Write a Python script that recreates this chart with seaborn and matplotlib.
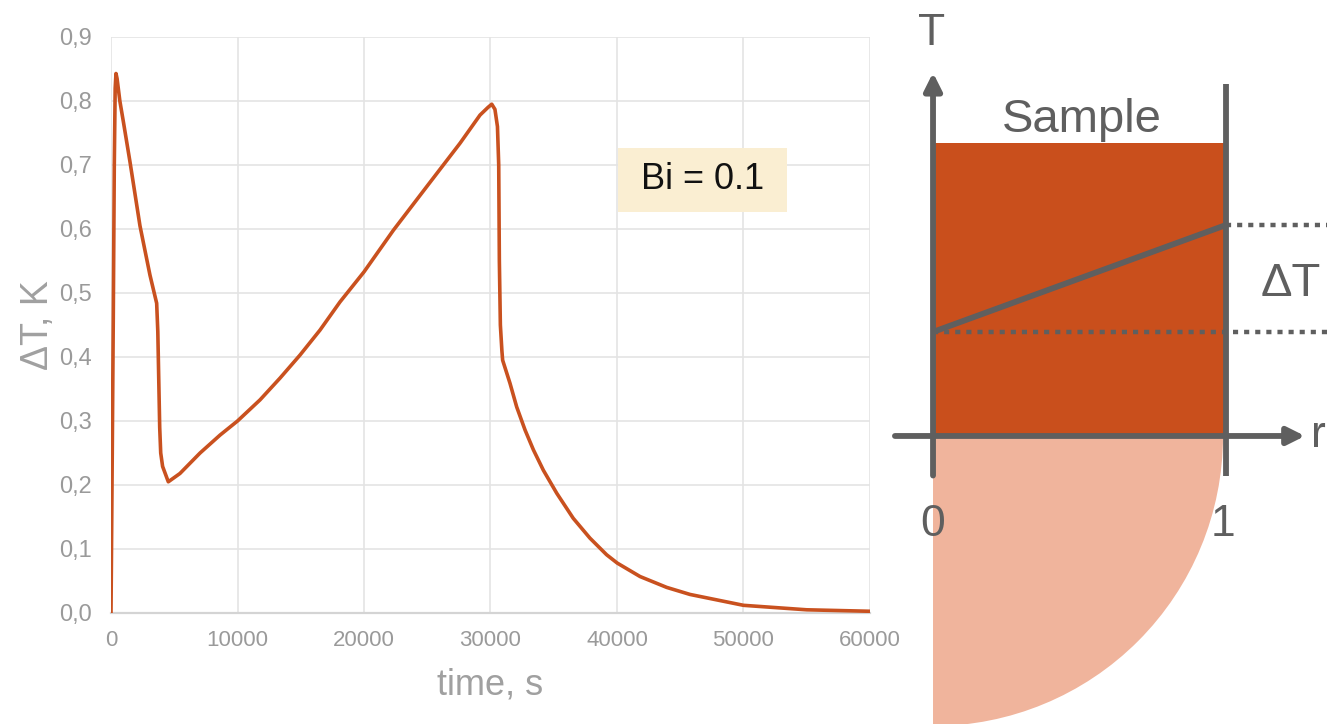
import matplotlib
matplotlib.use("Agg")
import matplotlib.pyplot as plt
import seaborn as sns
import pandas as pd
from matplotlib.patches import Rectangle, Wedge

# ---------------- data ----------------
time_s = [0, 100, 180, 260, 330, 395, 480, 700, 1000, 1500, 2290, 3080,
          3610, 3700, 3780, 3850, 3930, 4080, 4530, 5450, 7040, 8620,
          10000, 11780, 13360, 14940, 16520, 18100, 20000, 22320, 24950,
          27590, 29170, 29800, 30100, 30350, 30550, 30650, 30700, 30780,
          30900, 30960, 31540, 32070, 32730, 33390, 34180, 35240, 36540,
          37860, 39180, 40020, 41820, 43930, 45770, 50000, 55000, 60000]
delta_T = [0.0, 0.25, 0.46, 0.70, 0.82, 0.843, 0.835, 0.80, 0.765, 0.705,
           0.605, 0.528, 0.484, 0.44, 0.36, 0.29, 0.25, 0.229, 0.205,
           0.218, 0.250, 0.278, 0.300, 0.333, 0.367, 0.403, 0.442, 0.486,
           0.533, 0.598, 0.666, 0.734, 0.778, 0.790, 0.795, 0.787, 0.760,
           0.700, 0.550, 0.450, 0.410, 0.395, 0.359, 0.322, 0.286, 0.255,
           0.223, 0.187, 0.148, 0.117, 0.091, 0.078, 0.057, 0.040, 0.029,
           0.012, 0.005, 0.0027]

x_ticks = [0, 10000, 20000, 30000, 40000, 50000, 60000]
x_tick_labels = ["0", "10000", "20000", "30000", "40000", "50000", "60000"]
y_ticks = [0.0, 0.1, 0.2, 0.3, 0.4, 0.5, 0.6, 0.7, 0.8, 0.9]
y_tick_labels = ["0,0", "0,1", "0,2", "0,3", "0,4", "0,5", "0,6", "0,7", "0,8", "0,9"]

x_label = "time, s"
y_label = "ΔT, K"
annotation_text = "Bi = 0.1"

# schematic (in units of sample radius r and temperature)
sample_T_top = 1.0
profile_r = [0.0, 1.0]
profile_T = [0.355, 0.72]

# ---------------- style ----------------
sns.set_style("white")
plt.rcParams["font.family"] = ["Liberation Sans", "DejaVu Sans"]

LINE_COLOR = "#C9511F"
GRID_COLOR = "#E4E4E4"
TICK_COLOR = "#9A9A9A"
LABEL_COLOR = "#A0A0A0"
DIAG_GRAY = "#5F5F5F"
SAMPLE_COLOR = "#C94F1C"
PINK = "#F0B49C"

fig = plt.figure(figsize=(13.27, 7.24), dpi=100)

# ---------------- main chart ----------------
ax = fig.add_axes([111 / 1327, 111 / 724, 759 / 1327, 576 / 724])
df = pd.DataFrame({"time": time_s, "dT": delta_T})
sns.lineplot(data=df, x="time", y="dT", ax=ax, color=LINE_COLOR,
             linewidth=2.6, estimator=None, sort=False, zorder=3)

ax.set_xlim(0, 60000)
ax.set_ylim(0, 0.9)
ax.set_xticks(x_ticks)
ax.set_xticklabels(x_tick_labels)
ax.set_yticks(y_ticks)
ax.set_yticklabels(y_tick_labels)
ax.tick_params(axis="both", length=0, colors=TICK_COLOR)
ax.tick_params(axis="x", pad=12, labelsize=16)
ax.tick_params(axis="y", pad=14, labelsize=17)
ax.grid(True, color=GRID_COLOR, linewidth=1.2, zorder=0)
ax.set_axisbelow(True)
for side in ["top", "right", "left"]:
    ax.spines[side].set_visible(False)
ax.spines["bottom"].set_color("#D4D4D4")
ax.spines["bottom"].set_linewidth(1.6)
ax.set_xlabel(x_label, fontsize=26, color=LABEL_COLOR, labelpad=12)
ax.set_ylabel(y_label, fontsize=27, color=LABEL_COLOR, labelpad=2)

# Bi annotation box
ax.add_patch(Rectangle((40080, 0.627), 13360, 0.100, facecolor="#FAEED2",
                       edgecolor="none", zorder=2))
ax.text(46760, 0.677, annotation_text, ha="center", va="center",
        fontsize=26, color="#111111", zorder=4)

# ---------------- schematic ----------------
dx = fig.add_axes([880 / 1327, 0, 447 / 1327, 1])
dx.set_xlim(-0.181, 1.345)
dx.set_ylim(-0.983, 1.488)
dx.axis("off")
dx.patch.set_alpha(0)

dx.add_patch(Wedge((0, 0), 0.99, 270, 360, facecolor=PINK, edgecolor="none",
                   zorder=1))
dx.add_patch(Rectangle((0, 0), 1.0, sample_T_top, facecolor=SAMPLE_COLOR,
                       edgecolor="none", zorder=2))

lw = 4.2
# right boundary line
dx.plot([1.0, 1.0], [-0.135, 1.2], color=DIAG_GRAY, lw=lw,
        solid_capstyle="butt", zorder=4)
# axes with arrows
arrow_kw = dict(arrowstyle="-|>", color=DIAG_GRAY, lw=lw, mutation_scale=26,
                shrinkA=0, shrinkB=0)
dx.annotate("", xy=(0.0, 1.24), xytext=(0.0, -0.135),
            arrowprops=arrow_kw, zorder=5)
dx.annotate("", xy=(1.27, 0.0), xytext=(-0.13, 0.0),
            arrowprops=arrow_kw, zorder=5)
# dotted reference lines
dot_style = dict(color=DIAG_GRAY, lw=3.2, linestyle=(0, (1.15, 1.35)),
                 dash_capstyle="butt", zorder=4, clip_on=False)
dx.plot([0.0, 1.345], [profile_T[0], profile_T[0]], **dot_style)
dx.plot([1.0, 1.345], [profile_T[1], profile_T[1]], **dot_style)
# temperature profile
dx.plot(profile_r, profile_T, color=DIAG_GRAY, lw=lw, zorder=5,
        solid_capstyle="butt")

txt_kw = dict(color=DIAG_GRAY, ha="center", va="center", clip_on=False)
dx.text(-0.004, 1.375, "T", fontsize=32, **txt_kw)
dx.text(0.507, 1.080, "Sample", fontsize=34, **txt_kw)
dx.text(1.222, 0.52, "ΔT", fontsize=34, **txt_kw)
dx.text(0.0, -0.303, "0", fontsize=32, **txt_kw)
dx.text(0.99, -0.303, "1", fontsize=32, **txt_kw)
dx.text(1.292, 0.0, "r", color=DIAG_GRAY, fontsize=32, ha="left",
        va="center", clip_on=False)

fig.savefig("out.png", dpi=100)
